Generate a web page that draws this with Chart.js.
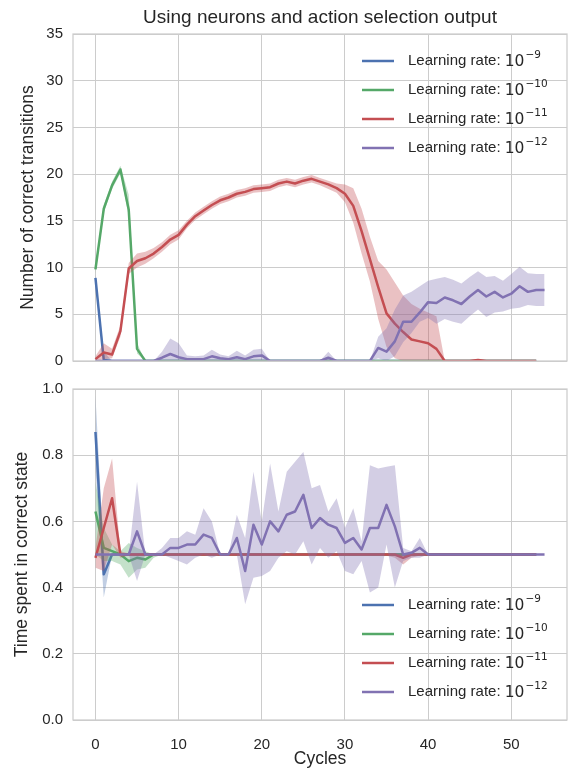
<!DOCTYPE html>
<html>
<head>
<meta charset="utf-8">
<script src="https://cdn.jsdelivr.net/npm/chart.js@4.4.0/dist/chart.umd.min.js"></script>
<style>
  html, body { margin: 0; padding: 0; background: #fff; overflow: hidden; }
  #wrap { position: relative; width: 568px; height: 768px; }
  canvas { position: absolute; left: 0; }
  #top-chart { top: 0; }
  #bottom-chart { top: 370px; }
</style>
</head>
<body>
<div id="wrap">
  <canvas id="top-chart" width="568" height="380"></canvas>
  <canvas id="bottom-chart" width="568" height="400"></canvas>
</div>
<script>
// x values (cycles) and tick labels
const cycles = [0,1,2,3,4,5,6,7,8,9,10,11,12,13,14,15,16,17,18,19,20,21,22,23,24,25,26,27,28,29,
  30,31,32,33,34,35,36,37,38,39,40,41,42,43,44,45,46,47,48,49,50,51,52,53,54];
const xTicks = [0, 10, 20, 30, 40, 50];
const rateExponents = ["\u22129", "\u221210", "\u221211", "\u221212"];

// Top panel: number of correct transitions (mean, lower, upper)
const blueTop   = [8.9,0.1,0,0,0,0,0,0,0,0, 0,0,0,0,0,0,0,0,0,0, 0,0,0,0,0,0,0,0,0,0, 0,0,0,0,0,0,0,0,0,0, 0,0,0,0,0,0,0,0,0,0, 0,0,0,0];
const blueTopLo = [8.4,0,0,0,0,0,0,0,0,0, 0,0,0,0,0,0,0,0,0,0, 0,0,0,0,0,0,0,0,0,0, 0,0,0,0,0,0,0,0,0,0, 0,0,0,0,0,0,0,0,0,0, 0,0,0,0];
const blueTopHi = [9.3,1.0,0,0,0,0,0,0,0,0, 0,0,0,0,0,0,0,0,0,0, 0,0,0,0,0,0,0,0,0,0, 0,0,0,0,0,0,0,0,0,0, 0,0,0,0,0,0,0,0,0,0, 0,0,0,0];

const greenTop   = [9.8,16.3,18.8,20.5,16.2,1.3,0,0,0,0, 0,0,0,0,0,0,0,0,0,0, 0,0,0,0,0,0,0,0,0,0, 0,0,0,0,0,0,0,0,0,0, 0,0,0,0,0,0,0,0,0,0, 0,0,0,0];
const greenTopLo = [9.3,15.9,18.4,20.1,15.5,0.8,0,0,0,0, 0,0,0,0,0,0,0,0,0,0, 0,0,0,0,0,0,0,0,0,0, 0,0,0,0,0,0,0,0,0,0, 0,0,0,0,0,0,0,0,0,0, 0,0,0,0];
const greenTopHi = [10.3,16.7,19.2,20.9,17.8,1.9,0,0,0,0, 0,0,0,0,0,0,0,0,0,0, 0,0,0,0,0,0,0,0,0,0, 0,0,0,0,0,0,0,0,0,0, 0,0,0,0,0,0,0,0,0,0, 0,0,0,0];

const redTop = [0.2,0.9,0.7,3.2,9.9,10.7,11.0,11.5,12.2,13.0,
  13.5,14.6,15.5,16.1,16.7,17.2,17.5,17.9,18.1,18.4,
  18.5,18.6,19.0,19.2,19.0,19.3,19.5,19.2,18.9,18.5,
  17.9,16.6,13.9,10.9,7.9,5.1,4.0,3.1,2.3,2.1,
  1.9,1.3,0,0,0,0,0.1,0,0,0,
  0,0,0,0];
const redTopLo = [0,0.2,0.3,2.6,9.3,10.0,10.4,11.0,11.7,12.5,
  13.0,14.2,15.1,15.7,16.3,16.8,17.1,17.5,17.7,18.0,
  18.1,18.2,18.6,18.8,18.6,18.9,19.1,18.8,18.4,18.0,
  17.0,14.8,11.5,8.5,4.5,1.5,0.3,0,0,0,
  0,0,0,0,0,0,0,0,0,0,
  0,0,0,0];
const redTopHi = [0.5,1.9,1.3,3.8,10.5,11.5,11.7,12.1,12.7,13.5,
  14.0,15.0,15.9,16.5,17.1,17.6,17.9,18.3,18.5,18.8,
  18.9,19.0,19.4,19.6,19.4,19.7,19.9,19.6,19.3,19.0,
  18.9,18.5,16.3,13.3,10.7,9.8,8.4,7.0,6.1,5.6,
  5.2,4.8,0,0,0,0,0.2,0,0,0,
  0,0,0,0];

const purpleTop = [0,0,0,0,0,0,0,0,0.35,0.75,
  0.4,0.2,0.2,0.2,0.5,0.3,0.2,0.4,0.2,0.5,
  0.6,0,0,0,0,0,0,0,0.35,0,
  0,0,0,0,1.4,1.0,2.1,4.2,4.2,5.2,
  6.3,6.2,6.8,6.5,6.1,6.9,7.6,6.9,7.4,6.8,
  7.2,8.0,7.4,7.6,7.6];
const purpleTopLo = [0,0,0,0,0,0,0,0,0,0,
  0,0,0,0,0,0,0,0,0,0,
  0,0,0,0,0,0,0,0,0,0,
  0,0,0,0,0.3,0,0.5,2.0,3.0,4.2,
  4.6,4.0,4.5,4.2,4.0,4.8,5.5,4.7,5.2,5.3,
  5.6,5.7,6.0,5.9,5.9];
const purpleTopHi = [0,0,0,0,0,0,0,0,1.0,2.4,
  1.9,0.6,0.5,0.6,1.2,0.7,0.5,1.1,0.6,1.2,
  1.3,0,0,0,0,0,0,0,1.0,0,
  0,0,0,0,2.6,3.5,5.5,7.0,7.4,8.0,
  8.6,8.8,9.0,8.7,8.3,9.0,9.6,9.0,9.1,8.6,
  9.3,10.1,9.4,9.3,9.3];

// Bottom panel: time spent in correct state (mean, lower, upper)
const blueBot   = [0.87,0.44,0.5,0.5,0.5,0.5,0.5,0.5,0.5,0.5, 0.5,0.5,0.5,0.5,0.5,0.5,0.5,0.5,0.5,0.5, 0.5,0.5,0.5,0.5,0.5,0.5,0.5,0.5,0.5,0.5, 0.5,0.5,0.5,0.5,0.5,0.5,0.5,0.5,0.5,0.5, 0.5,0.5,0.5,0.5,0.5,0.5,0.5,0.5,0.5,0.5, 0.5,0.5,0.5,0.5];
const blueBotLo = [0.76,0.37,0.5,0.5,0.5,0.5,0.5,0.5,0.5,0.5, 0.5,0.5,0.5,0.5,0.5,0.5,0.5,0.5,0.5,0.5, 0.5,0.5,0.5,0.5,0.5,0.5,0.5,0.5,0.5,0.5, 0.5,0.5,0.5,0.5,0.5,0.5,0.5,0.5,0.5,0.5, 0.5,0.5,0.5,0.5,0.5,0.5,0.5,0.5,0.5,0.5, 0.5,0.5,0.5,0.5];
const blueBotHi = [0.98,0.50,0.5,0.5,0.5,0.5,0.5,0.5,0.5,0.5, 0.5,0.5,0.5,0.5,0.5,0.5,0.5,0.5,0.5,0.5, 0.5,0.5,0.5,0.5,0.5,0.5,0.5,0.5,0.5,0.5, 0.5,0.5,0.5,0.5,0.5,0.5,0.5,0.5,0.5,0.5, 0.5,0.5,0.5,0.5,0.5,0.5,0.5,0.5,0.5,0.5, 0.5,0.5,0.5,0.5];

const greenBot   = [0.63,0.52,0.51,0.50,0.48,0.49,0.485,0.50,0.5,0.5, 0.5,0.5,0.5,0.5,0.5,0.5,0.5,0.5,0.5,0.5, 0.5,0.5,0.5,0.5,0.5,0.5,0.5,0.5,0.5,0.5, 0.5,0.5,0.5,0.5,0.5,0.5,0.5,0.5,0.5,0.5, 0.5,0.5,0.5,0.5,0.5,0.5,0.5,0.5,0.5,0.5, 0.5,0.5,0.5,0.5];
const greenBotLo = [0.50,0.48,0.48,0.47,0.43,0.455,0.46,0.49,0.5,0.5, 0.5,0.5,0.5,0.5,0.5,0.5,0.5,0.5,0.5,0.5, 0.5,0.5,0.5,0.5,0.5,0.5,0.5,0.5,0.5,0.5, 0.5,0.5,0.5,0.5,0.5,0.5,0.5,0.5,0.5,0.5, 0.5,0.5,0.5,0.5,0.5,0.5,0.5,0.5,0.5,0.5, 0.5,0.5,0.5,0.5];
const greenBotHi = [0.72,0.58,0.53,0.51,0.535,0.52,0.51,0.50,0.5,0.5, 0.5,0.5,0.5,0.5,0.5,0.5,0.5,0.5,0.5,0.5, 0.5,0.5,0.5,0.5,0.5,0.5,0.5,0.5,0.5,0.5, 0.5,0.5,0.5,0.5,0.5,0.5,0.5,0.5,0.5,0.5, 0.5,0.5,0.5,0.5,0.5,0.5,0.5,0.5,0.5,0.5, 0.5,0.5,0.5,0.5];

const redBot   = [0.49,0.58,0.67,0.5,0.5,0.5,0.5,0.5,0.5,0.5, 0.5,0.5,0.5,0.5,0.5,0.5,0.5,0.5,0.5,0.5, 0.5,0.5,0.5,0.5,0.5,0.5,0.5,0.5,0.5,0.5, 0.5,0.5,0.5,0.5,0.5,0.5,0.5,0.49,0.5,0.5, 0.5,0.5,0.5,0.5,0.5,0.5,0.5,0.5,0.5,0.5, 0.5,0.5,0.5,0.5];
const redBotLo = [0.46,0.45,0.53,0.49,0.497,0.497,0.497,0.497,0.497,0.497, 0.497,0.497,0.497,0.497,0.497,0.497,0.497,0.497,0.497,0.497, 0.497,0.497,0.497,0.497,0.497,0.497,0.497,0.497,0.497,0.497, 0.497,0.497,0.497,0.497,0.497,0.497,0.49,0.47,0.49,0.497, 0.497,0.497,0.497,0.497,0.497,0.497,0.497,0.497,0.497,0.497, 0.497,0.497,0.497,0.497];
const redBotHi = [0.52,0.70,0.79,0.51,0.503,0.503,0.503,0.503,0.503,0.503, 0.503,0.503,0.503,0.503,0.503,0.503,0.503,0.503,0.503,0.503, 0.503,0.503,0.503,0.503,0.503,0.503,0.503,0.503,0.503,0.503, 0.503,0.503,0.503,0.503,0.503,0.503,0.503,0.503,0.503,0.503, 0.503,0.503,0.503,0.503,0.503,0.503,0.503,0.503,0.503,0.503, 0.503,0.503,0.503,0.503];

const purpleBot = [0.5,0.5,0.5,0.5,0.5,0.57,0.5,0.5,0.5,0.52,
  0.52,0.53,0.53,0.56,0.55,0.5,0.5,0.55,0.45,0.59,
  0.53,0.60,0.57,0.62,0.63,0.68,0.58,0.61,0.59,0.58,
  0.535,0.55,0.515,0.58,0.58,0.65,0.585,0.50,0.505,0.52,
  0.5,0.5,0.5,0.5,0.5,0.5,0.5,0.5,0.5,0.5,
  0.5,0.5,0.5,0.5,0.5];
const purpleBotLo = [0.5,0.5,0.5,0.5,0.5,0.42,0.5,0.5,0.5,0.49,
  0.48,0.47,0.49,0.5,0.49,0.5,0.5,0.5,0.35,0.43,
  0.435,0.45,0.49,0.51,0.50,0.54,0.47,0.52,0.49,0.51,
  0.45,0.44,0.48,0.385,0.40,0.53,0.40,0.48,0.49,0.49,
  0.5,0.5,0.5,0.5,0.5,0.5,0.5,0.5,0.5,0.5,
  0.5,0.5,0.5,0.5,0.5];
const purpleBotHi = [0.5,0.5,0.5,0.5,0.5,0.72,0.5,0.5,0.52,0.55,
  0.55,0.57,0.56,0.64,0.60,0.5,0.5,0.62,0.55,0.75,
  0.60,0.775,0.63,0.75,0.78,0.81,0.70,0.71,0.63,0.67,
  0.58,0.64,0.54,0.77,0.76,0.765,0.77,0.52,0.51,0.55,
  0.5,0.5,0.5,0.5,0.5,0.5,0.5,0.5,0.5,0.5,
  0.5,0.5,0.5,0.5,0.5];

const lineColors = ["#4C72B0", "#55A868", "#C44E52", "#8172B2"];
const bandColors = ["rgba(76,114,176,0.35)", "rgba(85,168,104,0.35)", "rgba(196,78,82,0.35)", "rgba(129,114,178,0.35)"];
const gridColor = "#cccccc";
const textColor = "#262626";

Chart.defaults.font.family = "'Liberation Sans', Arial, sans-serif";
Chart.defaults.color = textColor;

// Build band + mean datasets, later series drawn on top
function buildDatasets(series) {
  const pts = arr => arr.map((v, k) => ({ x: cycles[k], y: v }));
  const sets = [];
  series.forEach((s, i) => {
    sets.push({ data: pts(s.lo), borderWidth: 0, borderColor: "rgba(0,0,0,0)", pointRadius: 0, fill: false });
    sets.push({ data: pts(s.hi), borderWidth: 0, borderColor: "rgba(0,0,0,0)", pointRadius: 0, fill: "-1", backgroundColor: bandColors[i] });
    sets.push({ data: pts(s.mean), borderColor: lineColors[i], borderWidth: 2.5, borderJoinStyle: "round", pointRadius: 0, fill: false });
  });
  sets.forEach((d, k) => { d.order = sets.length - k; });
  return sets;
}

// Light grey box round the plot area
const framePlugin = {
  id: "frame",
  afterDatasetsDraw(chart) {
    const { ctx, chartArea: a } = chart;
    ctx.save();
    ctx.strokeStyle = gridColor;
    ctx.lineWidth = 1.25;
    ctx.strokeRect(a.left, a.top, a.right - a.left, a.bottom - a.top);
    ctx.restore();
  }
};

// Legend drawn inside the plot, with the exponent as superscript
const rateLegend = {
  id: "rateLegend",
  afterDraw(chart, args, opts) {
    const { ctx, chartArea: a } = chart;
    const first = opts.top !== undefined ? a.top + opts.top : a.bottom - opts.bottom;
    const x0 = a.right - 205;
    ctx.save();
    rateExponents.forEach((exp, i) => {
      const y = first + i * 29;
      ctx.strokeStyle = lineColors[i];
      ctx.lineWidth = 2.5;
      ctx.beginPath();
      ctx.moveTo(x0, y);
      ctx.lineTo(x0 + 32, y);
      ctx.stroke();
      ctx.fillStyle = textColor;
      ctx.textBaseline = "middle";
      ctx.font = "15px 'Liberation Sans', Arial, sans-serif";
      const base = "Learning rate: ";
      let tx = x0 + 46;
      ctx.fillText(base, tx, y);
      tx += ctx.measureText(base).width;
      ctx.font = "15.5px 'DejaVu Sans', sans-serif";
      ctx.fillText("10", tx, y + 1);
      tx += ctx.measureText("10").width + 1;
      ctx.font = "10.5px 'DejaVu Sans', sans-serif";
      ctx.fillText(exp, tx, y - 6);
    });
    ctx.restore();
  }
};

function xScale(showTicks, height) {
  return {
    type: "linear",
    min: -2.7,
    max: 56.7,
    afterBuildTicks: s => { s.ticks = xTicks.map(v => ({ value: v })); },
    afterFit: s => { s.height = height; },
    grid: { color: gridColor, drawTicks: false },
    border: { display: false },
    ticks: { display: showTicks, padding: 16, font: { size: 15 } },
    title: { display: showTicks, text: "Cycles", font: { size: 17.5 }, padding: { top: 0, bottom: 0 } }
  };
}

new Chart(document.getElementById("top-chart"), {
  type: "line",
  data: { datasets: buildDatasets([
    { mean: blueTop, lo: blueTopLo, hi: blueTopHi },
    { mean: greenTop, lo: greenTopLo, hi: greenTopHi },
    { mean: redTop, lo: redTopLo, hi: redTopHi },
    { mean: purpleTop, lo: purpleTopLo, hi: purpleTopHi }
  ]) },
  options: {
    responsive: false,
    animation: false,
    events: [],
    layout: { padding: { right: 1 } },
    scales: {
      x: xScale(false, 10),
      y: {
        min: 0, max: 35,
        afterFit: s => { s.width = 73; },
        grid: { color: gridColor, drawTicks: false },
        border: { display: false },
        ticks: { stepSize: 5, padding: 10, font: { size: 15 } },
        title: { display: true, text: "Number of correct transitions", font: { size: 17.5 }, padding: { top: 17.5, bottom: 0 } }
      }
    },
    plugins: {
      legend: { display: false },
      tooltip: { enabled: false },
      title: {
        display: true, fullSize: false,
        text: "Using neurons and action selection output",
        font: { size: 19, weight: "normal" }, color: textColor,
        padding: { top: 6.6, bottom: 4.6 }
      },
      rateLegend: { top: 27 }
    }
  },
  plugins: [framePlugin, rateLegend]
});

new Chart(document.getElementById("bottom-chart"), {
  type: "line",
  data: { datasets: buildDatasets([
    { mean: blueBot, lo: blueBotLo, hi: blueBotHi },
    { mean: greenBot, lo: greenBotLo, hi: greenBotHi },
    { mean: redBot, lo: redBotLo, hi: redBotHi },
    { mean: purpleBot, lo: purpleBotLo, hi: purpleBotHi }
  ]) },
  options: {
    responsive: false,
    animation: false,
    events: [],
    layout: { padding: { top: 13, right: 1 } },
    scales: {
      x: xScale(true, 50),
      y: {
        min: 0, max: 1,
        afterFit: s => { s.width = 73; },
        grid: { color: gridColor, drawTicks: false },
        border: { display: false },
        ticks: { stepSize: 0.2, padding: 10, font: { size: 15 }, callback: v => v.toFixed(1) },
        title: { display: true, text: "Time spent in correct state", font: { size: 17.5 }, padding: { top: 11.5, bottom: 0 } }
      }
    },
    plugins: {
      legend: { display: false },
      tooltip: { enabled: false },
      rateLegend: { bottom: 115 }
    }
  },
  plugins: [framePlugin, rateLegend]
});
</script>
</body>
</html>
